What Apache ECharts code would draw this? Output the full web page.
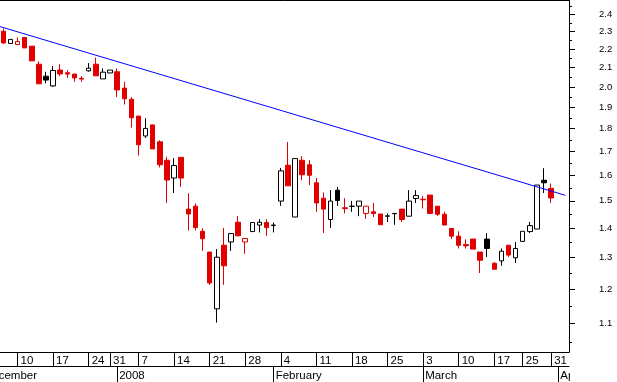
<!DOCTYPE html>
<html><head><meta charset="utf-8">
<script src="https://cdn.jsdelivr.net/npm/echarts@6/dist/echarts.min.js"></script>
<style>html,body{margin:0;padding:0;background:#fff;overflow:hidden}#c{width:617px;height:382px}</style>
</head><body><div id="c"></div>
<script>
// Trading days (categories); first three and last two carry no candle in view
const dates = [
 '2007-12-03','2007-12-04','2007-12-05','2007-12-06','2007-12-07','2007-12-10','2007-12-11','2007-12-12','2007-12-13','2007-12-14',
 '2007-12-17','2007-12-18','2007-12-19','2007-12-20','2007-12-21','2007-12-24','2007-12-27','2007-12-28','2007-12-31',
 '2008-01-02','2008-01-03','2008-01-04','2008-01-07','2008-01-08','2008-01-09','2008-01-10','2008-01-11','2008-01-14','2008-01-15',
 '2008-01-16','2008-01-17','2008-01-18','2008-01-21','2008-01-22','2008-01-23','2008-01-24','2008-01-25','2008-01-28','2008-01-29',
 '2008-01-30','2008-01-31','2008-02-01','2008-02-04','2008-02-05','2008-02-06','2008-02-07','2008-02-08','2008-02-11','2008-02-12',
 '2008-02-13','2008-02-14','2008-02-15','2008-02-18','2008-02-19','2008-02-20','2008-02-21','2008-02-22','2008-02-25','2008-02-26',
 '2008-02-27','2008-02-28','2008-02-29','2008-03-03','2008-03-04','2008-03-05','2008-03-06','2008-03-07','2008-03-10','2008-03-11',
 '2008-03-12','2008-03-13','2008-03-14','2008-03-17','2008-03-18','2008-03-19','2008-03-20','2008-03-25','2008-03-26','2008-03-27',
 '2008-03-28','2008-03-31','2008-04-01','2008-04-02'
];
const open = [null,null,null,
 2.302,2.232,2.226,2.266,2.217,2.118,2.055,2.005,2.087,2.073,
 2.066,2.044,2.083,2.118,2.041,2.072,2.078,1.994,1.939,1.858,
 1.767,1.817,1.741,1.662,1.589,1.674,1.469,1.480,1.389,1.318,
 1.142,1.341,1.352,1.421,1.352,1.388,1.411,1.420,1.409,1.499,
 1.641,1.440,1.662,1.643,1.570,1.510,1.431,1.541,1.474,1.479,
 1.480,1.453,1.459,1.451,1.443,1.452,1.469,1.443,1.509,1.506,
 1.522,1.480,1.450,1.399,1.372,1.343,1.362,1.318,1.362,1.281,
 1.289,1.341,1.299,1.354,1.388,1.397,1.580,1.548,
 null,null];
const close = [null,null,null,
 2.235,2.255,2.243,2.207,2.136,2.016,2.035,2.085,2.067,2.066,
 2.046,2.040,2.097,2.057,2.076,2.087,1.985,1.941,1.850,1.728,
 1.801,1.710,1.643,1.581,1.640,1.589,1.451,1.402,1.363,1.219,
 1.301,1.273,1.381,1.373,1.364,1.420,1.421,1.402,1.411,1.618,
 1.558,1.669,1.602,1.600,1.492,1.469,1.499,1.501,1.471,1.480,
 1.499,1.480,1.453,1.412,1.444,1.453,1.431,1.499,1.520,1.504,
 1.453,1.450,1.411,1.372,1.341,1.339,1.328,1.291,1.330,1.262,
 1.321,1.308,1.330,1.389,1.409,1.561,1.570,1.511,
 null,null];
const low = [null,null,null,
 2.230,2.232,2.226,2.207,2.136,2.016,2.018,2.000,2.055,2.046,
 2.026,2.026,2.078,2.057,2.041,2.072,1.950,1.913,1.805,1.682,
 1.758,1.710,1.632,1.492,1.530,1.554,1.392,1.392,1.322,1.213,
 1.103,1.213,1.322,1.373,1.312,1.388,1.385,1.373,1.385,1.481,
 1.558,1.440,1.580,1.561,1.459,1.383,1.401,1.481,1.453,1.459,
 1.443,1.433,1.440,1.412,1.422,1.412,1.422,1.443,1.492,1.471,
 1.453,1.444,1.411,1.362,1.330,1.330,1.328,1.250,1.302,1.262,
 1.273,1.302,1.282,1.354,1.383,1.397,1.530,1.492,
 null,null];
const high = [null,null,null,
 2.318,2.255,2.266,2.266,2.217,2.134,2.078,2.108,2.118,2.087,
 2.066,2.055,2.124,2.154,2.095,2.087,2.095,2.026,1.949,1.858,
 1.848,1.817,1.748,1.676,1.671,1.674,1.529,1.490,1.400,1.318,
 1.328,1.401,1.381,1.443,1.364,1.420,1.432,1.432,1.420,1.630,
 1.740,1.669,1.679,1.662,1.589,1.532,1.541,1.554,1.510,1.500,
 1.499,1.480,1.492,1.451,1.453,1.455,1.469,1.541,1.541,1.518,
 1.522,1.480,1.459,1.399,1.389,1.361,1.362,1.318,1.383,1.285,
 1.330,1.341,1.352,1.389,1.422,1.561,1.629,1.567,
 null,null];
// Trend line end points
const trendDates = ['2007-12-03','2008-04-02'];
const trendValues = [2.361, 1.521];
// Price axis ticks
const yLabelValues = [2.4,2.3,2.2,2.1,2.0,1.9,1.8,1.7,1.6,1.5,1.4,1.3,1.2,1.1];
const yMinorValues = [2.45,2.35,2.25,2.15,2.05,1.95,1.85,1.75,1.65,1.55,1.45,1.35,1.25,1.15,1.05];
const monthNames = ['January','February','March','April','May','June','July','August','September','October','November','December'];

const RED = '#e00000', BLACK = '#000000';
const FONT = "'Liberation Sans', Arial, sans-serif";

function parse(d){ const p = d.split('-').map(Number); return new Date(p[0], p[1]-1, p[2]); }
const dObjs = dates.map(parse);
const weekStart = {}, monthStart = {};
dObjs.forEach((dt, i) => {
  const prev = i > 0 ? dObjs[i-1] : null;
  const ws = !prev || dt.getDay() <= prev.getDay() || (dt - prev) >= 7*864e5;
  const ms = !prev || dt.getMonth() !== prev.getMonth();
  if (ws) weekStart[dates[i]] = String(dt.getDate());
  if (ms) monthStart[dates[i]] = dt.getMonth() === 0 ? String(dt.getFullYear()) : monthNames[dt.getMonth()];
});

let prevClose = null;
const candles = dates.map((d, i) => {
  if (open[i] == null) return '-';
  const o = open[i], c = close[i];
  const up = c > o;
  const col = prevClose == null ? (up ? BLACK : RED) : (c >= prevClose ? BLACK : RED);
  prevClose = c;
  const fill = up ? '#ffffff' : col;
  return { value: [o, c, low[i], high[i]],
    itemStyle: { color: fill, color0: fill, borderColor: col, borderColor0: col, borderWidth: 1 } };
});

const chart = echarts.init(document.getElementById('c'), null, { renderer: 'canvas' });
chart.setOption({
  animation: false,
  backgroundColor: '#ffffff',
  grid: { left: -21.6, right: 48, top: 0, bottom: 30, containLabel: false, outerBoundsMode: 'none' },
  xAxis: [
    { type: 'category', data: dates, position: 'bottom', boundaryGap: true,
      axisLine: { show: true, lineStyle: { color: BLACK, width: 1 } },
      axisTick: { show: true, alignWithLabel: true, length: 14, interval: (i, v) => weekStart[v] !== undefined, lineStyle: { color: BLACK } },
      axisLabel: { show: true, interval: (i, v) => weekStart[v] !== undefined, formatter: v => weekStart[v] || '',
        align: 'left', padding: [0, 0, 0, 3], margin: 3, color: BLACK, fontSize: 11.5, fontFamily: FONT, hideOverlap: false },
      splitLine: { show: false } },
    { type: 'category', data: dates, position: 'bottom', offset: 14, boundaryGap: true,
      axisLine: { show: true, lineStyle: { color: BLACK, width: 1 } },
      axisTick: { show: true, alignWithLabel: true, length: 16, interval: (i, v) => monthStart[v] !== undefined, lineStyle: { color: BLACK } },
      axisLabel: { show: true, interval: (i, v) => monthStart[v] !== undefined, formatter: v => monthStart[v] || '',
        align: 'left', padding: [0, 0, 0, 2], margin: 4, color: BLACK, fontSize: 11.5, fontFamily: FONT, hideOverlap: false },
      splitLine: { show: false } },
    { type: 'category', data: dates, position: 'top', boundaryGap: true,
      axisLine: { show: true, lineStyle: { color: BLACK, width: 1 } },
      axisTick: { show: false }, axisLabel: { show: false }, splitLine: { show: false } }
  ],
  yAxis: [
    { type: 'log', logBase: 10, position: 'right', min: 1.024, max: 2.491, scale: true,
      axisLine: { show: true, lineStyle: { color: BLACK, width: 1 } },
      axisTick: { show: true, customValues: yLabelValues, length: 6, lineStyle: { color: BLACK } },
      axisLabel: { show: true, customValues: yLabelValues, formatter: v => Number(v).toFixed(1),
        margin: 30, color: BLACK, fontSize: 9.5, fontFamily: FONT },
      splitLine: { show: false } },
    { type: 'log', logBase: 10, position: 'right', min: 1.024, max: 2.491, scale: true,
      axisLine: { show: false },
      axisTick: { show: true, customValues: yMinorValues, length: 3, lineStyle: { color: BLACK } },
      axisLabel: { show: false }, splitLine: { show: false } }
  ],
  graphic: [
    { type: 'rect', left: 570, top: 353, shape: { width: 47, height: 29 }, style: { fill: '#ffffff' }, z: 100, silent: true }
  ],
  series: [
    { type: 'candlestick', xAxisIndex: 0, yAxisIndex: 0, data: candles, barWidth: 5 },
    { type: 'line', xAxisIndex: 0, yAxisIndex: 0, data: trendDates.map((d, i) => [d, trendValues[i]]),
      symbol: 'none', lineStyle: { color: '#0000ff', width: 1 }, z: 3 }
  ]
});
</script>
</body></html>
